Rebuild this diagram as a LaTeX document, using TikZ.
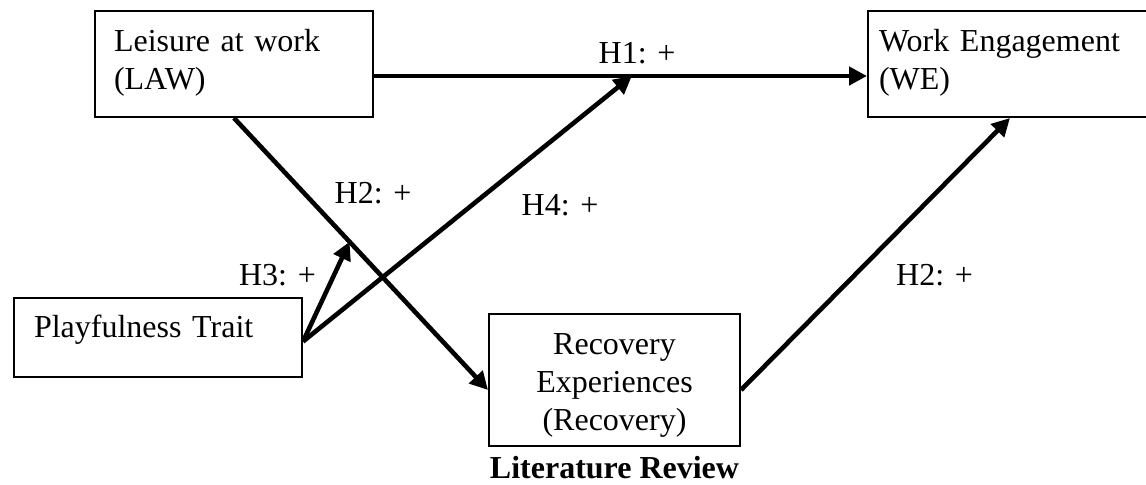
\documentclass[tikz,border=0pt]{standalone}
\usepackage{fontspec}
\setmainfont{Liberation Serif}
\usetikzlibrary{arrows.meta}
\usetikzlibrary{calc}
\usetikzlibrary{positioning}

\begin{document}
\begin{tikzpicture}[
	x=0.5pt, y=-0.5pt,
	font=\fontsize{16}{19}\selectfont,
	model box/.style={draw, line width=1pt, inner sep=0pt, text height=11pt},
	path label/.style={inner sep=0pt, anchor=base},
	path arrow/.style={line width=2.3pt, -{Triangle[length=9pt, width=9pt]}},
]
	\useasboundingbox (0,0) rectangle (1146,484);

	\node[model box, minimum width=139pt, minimum height=53pt, text width=120pt, align=left, text depth=24pt] (law) at (234,64) {Leisure at work\\(LAW)};
	\node[model box, minimum width=142pt, minimum height=53pt, text width=131pt, align=left, text depth=24pt] (we) at (1010,64) {Work Engagement\\(WE)};
	\node[model box, minimum width=144pt, minimum height=39.5pt, text width=124pt, align=left, text depth=11pt] (play) at (158,337.5) {Playfulness Trait};
	\node[model box, minimum width=125.5pt, minimum height=66pt, text width=110pt, align=center, text depth=37pt] (rec) at (614.5,380) {Recovery\\Experiences\\(Recovery)};
	\node[inner sep=0pt, font=\fontsize{16}{19}\selectfont\bfseries, below=4.5pt of rec] (title) {Literature Review};

	\draw[path arrow] ([yshift=-6pt]law.east) -- ([yshift=-6pt]we.west);
	\draw[path arrow] (law.south) -- ([yshift=-5pt]rec.west);
	\draw[path arrow] ([yshift=-5pt]rec.east) -- (we.south);

	\coordinate (mod) at ($(law.south)!0.455!([yshift=-5pt]rec.west)$);
	\coordinate (direct) at ($([yshift=-6pt]law.east)!0.523!([yshift=-6pt]we.west)$);
	\draw[path arrow] ([yshift=-2pt]play.east) -- (mod);
	\draw[path arrow] ([yshift=-2pt]play.east) -- (direct);

	\node[path label] (h1) at (637,63) {H1: +};
	\node[path label] (h2a) at (373,203) {H2: +};
	\node[path label] (h4) at (560,215) {H4: +};
	\node[path label] (h3) at (277.5,285) {H3: +};
	\node[path label] (h2b) at (934.5,285) {H2: +};
\end{tikzpicture}
\end{document}
